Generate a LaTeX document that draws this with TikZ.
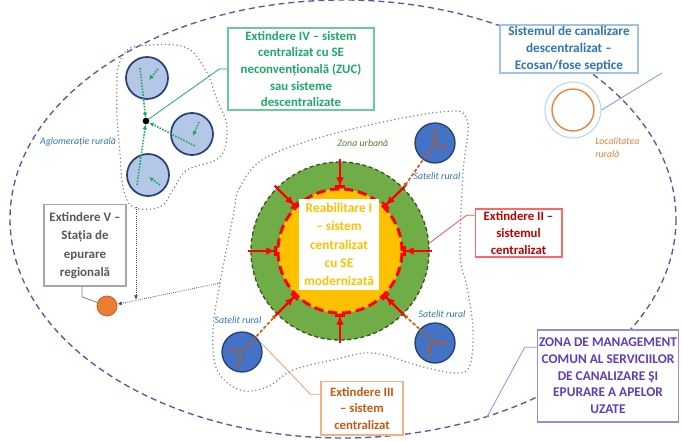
\documentclass[tikz,border=0pt]{standalone}
\usepackage{fontspec}
\setmainfont{Carlito}
\usetikzlibrary{arrows.meta,calc}

\definecolor{zonecol}{RGB}{88,86,168}
\definecolor{ringgreen}{RGB}{112,173,71}
\definecolor{darkgreen}{RGB}{56,87,35}
\definecolor{coreyellow}{RGB}{255,192,0}
\definecolor{satblue}{RGB}{68,114,196}
\definecolor{satborder}{RGB}{38,64,120}
\definecolor{lightblue}{RGB}{180,199,231}
\definecolor{labelblue}{RGB}{46,117,182}
\definecolor{rustorange}{RGB}{197,90,17}
\definecolor{dotorange}{RGB}{237,125,49}
\definecolor{tanline}{RGB}{244,177,131}
\definecolor{extgreen}{RGB}{30,170,100}
\definecolor{extgreenline}{RGB}{102,204,153}
\definecolor{ecoline}{RGB}{157,195,230}
\definecolor{greytext}{RGB}{89,89,89}
\definecolor{darkred}{RGB}{192,0,0}
\definecolor{mgmtpurple}{RGB}{96,60,190}
\definecolor{mgmtline}{RGB}{150,140,230}
\definecolor{urbangreen}{RGB}{84,130,53}

\begin{document}
\begin{tikzpicture}[x=0.75pt,y=-0.75pt,
    box/.style={draw,line width=1pt,fill=white,align=center,inner sep=1pt,font=\bfseries\fontsize{9.6}{12.5}\selectfont},
    lbl/.style={font=\itshape\fontsize{7.4}{9.8}\selectfont,inner sep=0pt},
    satellite/.style={circle,draw=satborder,fill=satblue,line width=1pt,minimum size=30pt,inner sep=0pt},
    agglo/.style={circle,draw=satborder,fill=lightblue,line width=1.3pt,minimum size=31.5pt,inner sep=0pt},
    redarrow/.style={red,line width=1.6pt,-{Latex[length=6pt,width=6pt] Bar[width=7pt]}},
    feed/.style={rustorange,dash pattern=on 2.5pt off 1.5pt,line width=1.2pt,-{Latex[length=3.5pt,width=3.5pt]}},
    gfeed/.style={extgreen,densely dotted,line width=1.2pt,-{Latex[length=3.5pt,width=3.5pt]}},
    blob/.style={gray,dotted,line width=0.9pt},
    pipe/.style={gray!60!black,densely dotted,line width=0.6pt,-{Latex[length=3.5pt,width=3pt]}},
    callout/.style={line width=0.6pt}]
\useasboundingbox (0,0) rectangle (682,441);

\draw[zonecol,dash pattern=on 4.5pt off 3pt,line width=1pt] (343,219) ellipse [x radius=333, y radius=219];

\draw[blob] plot[smooth cycle,tension=0.6] coordinates {(118,68) (127,50) (150,45) (187,48) (207,73) (217,100) (227,127) (220,157) (187,170) (173,190) (160,207) (133,207) (123,187) (120,153) (117,117) (117,83)};
\draw[blob] plot[smooth cycle,tension=0.6] coordinates {(233,217) (240,187) (267,157) (340,132) (440,112) (467,120) (463,173) (460,253) (467,287) (473,330) (470,365) (457,373) (423,367) (373,353) (333,360) (293,370) (267,387) (240,390) (217,370) (213,330) (220,283)};

\node[circle,fill=ringgreen,draw=darkgreen,dash pattern=on 3pt off 2pt,line width=1pt,minimum size=133.5pt,inner sep=0pt] (urban) at (340,251) {};
\node[circle,fill=coreyellow,draw=red,dash pattern=on 7pt off 3.5pt,line width=2.2pt,minimum size=93pt,inner sep=0pt] (core) at (340,251) {};
\foreach \a in {0,45,...,315}
  \draw[redarrow] ($(core.center)!1.03!(urban.\a)$) -- (core.\a);
\node[fill=white,text=coreyellow,align=center,inner sep=0pt,minimum width=60pt,minimum height=68pt,font=\bfseries\fontsize{10}{13.7}\selectfont] (coretext) at (339,244.5) {Reabilitare I\\– sistem\\centralizat\\cu SE\\modernizată};
\node[lbl,text=urbangreen] (zonelbl) at (363,143) {Zona urbană};

\node[satellite] (satNE) at (435,143) {};
\node[satellite] (satSW) at (242,352) {};
\node[satellite] (satSE) at (435,343) {};
\node[lbl,text=labelblue] (lblNE) at (437,176) {Satelit rural};
\node[lbl,text=labelblue] (lblSW) at (238,320) {Satelit rural};
\node[lbl,text=labelblue] (lblSE) at (442,314) {Satelit rural};
\draw[feed] (satNE) ++(0,-14) -- ++(0,16);
\draw[feed] (satNE) ++(12,3) -- ++(-10,1);
\draw[feed] (satNE.center) -- (urban.45);
\draw[feed] (satSE) ++(-6,14) -- ++(0,-14);
\draw[feed] (satSE) ++(13,0) -- ++(-15,0);
\draw[feed] (satSE.center) -- (urban.-45);
\draw[feed] (satSW) ++(-4,16) -- ++(3,-14);
\draw[feed] (satSW) ++(-12,-2) -- ++(10,2);
\draw[feed] (satSW.center) -- (urban.225);

\node[agglo] (aggN) at (147,78) {};
\node[agglo] (aggE) at (192,134) {};
\node[agglo] (aggS) at (148,175) {};
\node[circle,fill=black,minimum size=5pt,inner sep=0pt] (hub) at (146,121) {};
\draw[gfeed] (aggN) ++(11,-9) -- ++(-9,11);
\draw[gfeed] (aggN) ++(-7,-10) -- (hub);
\draw[gfeed] (aggE) ++(7,-12) -- ++(-6,14);
\draw[gfeed] (aggE) ++(3,12) -- (hub);
\draw[gfeed] (aggS) ++(12,10) -- ++(-11,-8);
\draw[gfeed] (aggS) ++(-11,10) -- (hub);
\node[lbl,text=labelblue] (agglbl) at (78,142) {Aglomerație rurală};

\node[box,draw=extgreenline,text=extgreen,minimum width=109.5pt,minimum height=61.5pt] (boxIV) at (301,69) {Extindere IV – sistem\\centralizat cu SE\\neconvențională (ZUC)\\sau sisteme\\descentralizate};
\draw[extgreen,callout] (boxIV.west) -- ++(-8,0) -- (hub);

\node[box,draw=ecoline,text=labelblue,font=\bfseries\fontsize{9.9}{12.5}\selectfont,minimum width=103.5pt,minimum height=36pt] (boxEco) at (569,49) {Sistemul de canalizare\\descentralizat –\\Ecosan/fose septice};
\node[circle,draw=ecoline!70,line width=0.8pt,minimum size=42pt,inner sep=0pt] (locring) at (573,110) {};
\node[circle,draw=dotorange,line width=1pt,minimum size=31.5pt,inner sep=0pt] (loc) at (573,110) {};
\coordinate (ecotip) at (662,73);
\draw[ecoline!80!black,callout] (ecotip) -- (locring.east);
\node[lbl,text=dotorange,align=left,anchor=west] (loclbl) at (595,148) {Localitatea\\rurală};

\node[box,draw=gray!70,text=greytext,font=\bfseries\fontsize{9.7}{13.7}\selectfont,minimum width=61.5pt,minimum height=61pt] (boxV) at (85,245.5) {Extindere V –\\Stația de\\epurare\\regională};
\node[circle,fill=dotorange,draw=dotorange!80!black,line width=0.6pt,minimum size=15pt,inner sep=0pt] (plant) at (107,306) {};
\draw[gray,callout] ($(boxV.south)+(-3,0)$) -- ++(0,10) -- (plant);
\coordinate (aggbase) at (136,207);
\coordinate (urbanedge) at (220,283);
\coordinate (joint) at ($(urbanedge)!0.8!(plant.10)$);
\draw[pipe] (urbanedge) -- (plant.10);
\draw[pipe] (aggbase) -- (aggbase |- joint);

\node[box,draw=red!60,text=darkred,minimum width=65pt,minimum height=36pt] (boxII) at (518.5,233) {Extindere II –\\sistemul\\centralizat};
\draw[red!70,callout] ($(boxII.north west)+(0,7)$) -- ++(-8,0) -- (urban.5);

\node[box,draw=tanline,text=rustorange,minimum width=61.5pt,minimum height=40pt] (boxIII) at (362,408.5) {Extindere III\\– sistem\\centralizat};
\draw[tanline!80!rustorange,callout] ($(boxIII.north west)+(0,13)$) -- ++(-10,0) -- (satSW.30);

\node[box,draw=mgmtline,text=mgmtpurple,font=\bfseries\fontsize{10}{12.5}\selectfont,minimum width=106pt,minimum height=69pt] (zone) at (608,376) {ZONA DE MANAGEMENT\\COMUN AL SERVICIILOR\\DE CANALIZARE ŞI\\EPURARE A APELOR\\UZATE};
\coordinate (zoneedge) at (487,417);
\draw[mgmtline,callout] ($(zone.north west)+(0,18)$) -- ++(-12,0) -- (zoneedge);
\end{tikzpicture}
\end{document}
